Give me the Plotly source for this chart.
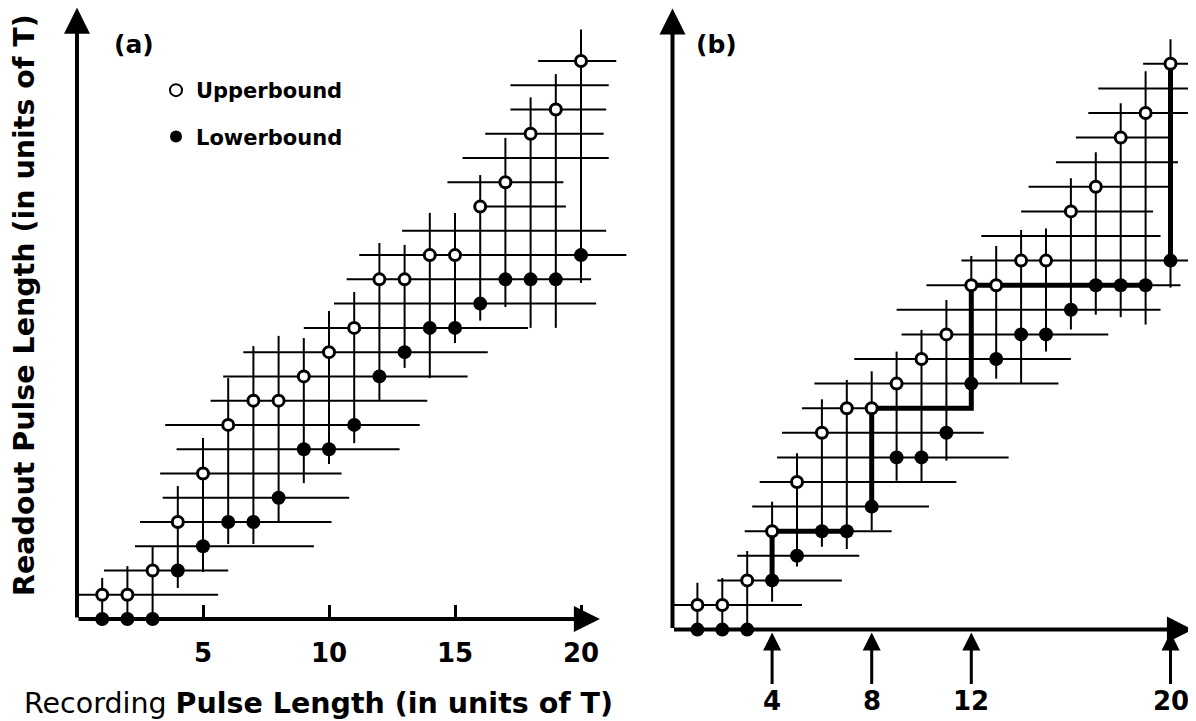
import plotly.graph_objects as go

# ---------------- data ----------------
rec_len = list(range(1, 21))                      # recording pulse length (T)
upper = [1, 1, 2, 4, 6, 8, 9, 9, 10, 11, 12, 14, 14, 15, 15, 17, 18, 20, 21, 23]
lower = [0, 0, 0, 2, 3, 4, 4, 5, 7, 7, 8, 10, 11, 12, 12, 13, 14, 14, 14, 15]

# panel (a) hand-drawn grid: vertical strokes per recording length
a_v_bottom = [0, 0, 0, 1.28, 1.94, 3.09, 3.09, 3.96, 5.6, 6.39, 7.25, 9.03, 10.35,
              9.93, 11.38, 12.3, 12.86, 12.0, 12.0, 13.85]
a_v_top = [1.69, 2.18, 2.97, 5.48, 7.46, 9.93, 11.25, 11.67, 11.58, 12.7, 13.48, 15.5,
           15.42, 16.74, 16.74, 18.3, 19.83, 21.5, 22.46, 24.3]
# horizontal strokes per readout level
levels = list(range(1, 24))
a_h_start = [0, 1.07, 2.3, 2.5, 3.4, 3.3, 3.95, 3.5, 5.3, 5.8, 6.6, 9.0, 10.2, 10.7,
             11.2, 12.9, 15.9, 14.7, 15.3, 16.2, 17.2, 17.2, 18.3]
a_h_end = [5.6, 6.0, 9.4, 10.1, 10.8, 10.5, 12.8, 13.6, 13.9, 15.5, 16.3, 17.9, 20.6,
           20.4, 21.8, 21.0, 19.4, 19.3, 21.1, 20.9, 21.0, 21.1, 21.4]

# panel (b) hand-drawn grid
b_v_bottom = [0, 0, 0, 1.13, 2.56, 3.37, 3.28, 4.05, 6.05, 5.97, 6.87, 9.0, 10.2,
              10.0, 11.3, 12.2, 12.8, 12.7, 12.4, 13.9]
b_v_top = [1.9, 2.1, 3.2, 5.2, 7.17, 9.36, 10.15, 10.5, 11.3, 12.18, 13.4, 15.19,
           15.59, 16.24, 16.3, 18.35, 19.4, 21.4, 22.7, 24.0]
b_h_start = [0, 1.8, 2.6, 2.9, 3.2, 3.5, 4.2, 4.4, 5.2, 5.7, 7.3, 9.2, 9.0, 10.2,
             11.6, 12.4, 14.0, 14.3, 15.4, 16.2, 16.7, 17.1, 18.9]
b_h_end = [5.2, 6.8, 7.5, 8.8, 10.3, 11.4, 13.5, 12.5, 12.0, 15.5, 16.0, 17.5, 19.6,
           20.4, 21.0, 19.6, 19.3, 20.0, 20.3, 20.1, 20.7, 21.0, 21.0]

# panel (b) quantisation staircase
b_steps_x = [[4, 4, 7], [8, 8, 12, 12, 19], [20, 20]]
b_steps_y = [[2, 4, 4], [5, 9, 9, 14, 14], [15, 23]]

a_ticks = [5, 10, 15, 20]
a_tick_text = ["5", "10", "15", "20"]
b_ticks = [4, 8, 12, 20]
b_tick_text = ["4", "8", "12", "20"]

a_axis_x_end, a_axis_y_end = 20.75, 25.2
b_axis_x_end, b_axis_y_end = 20.9, 25.25

FONT = "DejaVu Sans, Liberation Sans, sans-serif"
W, H, PAGE = 1196, 721, 8          # page body margin offset


def fx(s):      # screen x pixel -> paper fraction
    return (s - PAGE) / W


def fy(s):      # screen y pixel (from top) -> paper fraction
    return 1 - (s - PAGE) / H


def vsegs(xs, bot, top):
    X, Y = [], []
    for x, b, t in zip(xs, bot, top):
        X += [x, x, None]
        Y += [b, t, None]
    return X, Y


def hsegs(lv, st, en):
    X, Y = [], []
    for y, s, e in zip(lv, st, en):
        X += [s, e, None]
        Y += [y, y, None]
    return X, Y


fig = go.Figure()

for (xa, ya, vb, vt, hs, he, show) in [
    ("x", "y", a_v_bottom, a_v_top, a_h_start, a_h_end, True),
    ("x2", "y2", b_v_bottom, b_v_top, b_h_start, b_h_end, False),
]:
    X, Y = vsegs(rec_len, vb, vt)
    fig.add_trace(go.Scatter(x=X, y=Y, mode="lines", xaxis=xa, yaxis=ya,
                             line=dict(color="black", width=2), showlegend=False,
                             hoverinfo="skip"))
    X, Y = hsegs(levels, hs, he)
    fig.add_trace(go.Scatter(x=X, y=Y, mode="lines", xaxis=xa, yaxis=ya,
                             line=dict(color="black", width=2), showlegend=False,
                             hoverinfo="skip"))
    if xa == "x2":
        for sx, sy in zip(b_steps_x, b_steps_y):
            fig.add_trace(go.Scatter(x=sx, y=sy, mode="lines", xaxis=xa, yaxis=ya,
                                     line=dict(color="black", width=5),
                                     showlegend=False, hoverinfo="skip"))
    fig.add_trace(go.Scatter(x=rec_len, y=upper, mode="markers", xaxis=xa, yaxis=ya,
                             name="Upperbound", legendgroup="u", showlegend=show,
                             cliponaxis=False,
                             marker=dict(symbol="circle", size=11, color="white",
                                         line=dict(color="black", width=3))))
    fig.add_trace(go.Scatter(x=rec_len, y=lower, mode="markers", xaxis=xa, yaxis=ya,
                             name="Lowerbound", legendgroup="l", showlegend=show,
                             cliponaxis=False,
                             marker=dict(symbol="circle", size=14, color="black",
                                         line=dict(color="black", width=0))))

annotations = []
# axes drawn as arrows
for xr, yr, xe, ye in [("x", "y", a_axis_x_end, a_axis_y_end),
                       ("x2", "y2", b_axis_x_end, b_axis_y_end)]:
    for tx, ty in [(xe, 0), (0, ye)]:
        annotations.append(dict(x=tx, y=ty, ax=0, ay=0, xref=xr, yref=yr,
                                axref=xr, ayref=yr, text="", showarrow=True,
                                arrowhead=2, arrowsize=1.3, arrowwidth=4,
                                arrowcolor="black", standoff=0))
# panel (b) arrow ticks
for v, t in zip(b_ticks, b_tick_text):
    annotations.append(dict(x=v, y=0, xref="x2", yref="y2", text=t, showarrow=True,
                            ax=0, ay=71, arrowhead=2, arrowsize=1.2, arrowwidth=3,
                            arrowcolor="black", standoff=3,
                            font=dict(size=26, family=FONT, color="black",
                                      weight="bold")))
# panel labels and titles
for txt, sx in [("(a)", 134), ("(b)", 716)]:
    annotations.append(dict(x=fx(sx), y=fy(45), xref="paper", yref="paper",
                            xanchor="center", yanchor="middle",
                            text=txt, showarrow=False,
                            font=dict(size=25, family=FONT, color="black",
                                      weight="bold")))
annotations.append(dict(x=fx(318), y=fy(703), xref="paper", yref="paper",
                        xanchor="center", yanchor="middle",
                        text="Recording <b>Pulse Length (in units of T)</b>",
                        showarrow=False,
                        font=dict(size=28.5, family=FONT, color="black")))
annotations.append(dict(x=fx(24), y=fy(305), xref="paper", yref="paper",
                        xanchor="center", yanchor="middle",
                        text="<b>Readout Pulse Length (in units of T)</b>",
                        textangle=-90, showarrow=False,
                        font=dict(size=28.5, family=FONT, color="black")))

fig.update_layout(
    width=W, height=H,
    margin=dict(l=0, r=0, t=0, b=0),
    paper_bgcolor="white", plot_bgcolor="white",
    showlegend=True,
    legend=dict(x=fx(156), y=fy(70), xanchor="left", yanchor="top",
                bgcolor="rgba(0,0,0,0)", tracegroupgap=16, itemsizing="constant",
                font=dict(size=21, family=FONT, color="black", weight="bold")),
    xaxis=dict(domain=[fx(50), fx(640)], range=[(50 - 77) / 25.2, (640 - 77) / 25.2],
               anchor="y", tickvals=a_ticks, ticktext=a_tick_text,
               ticks="inside", ticklen=14, tickwidth=3, tickcolor="black",
               showline=False, showgrid=False, zeroline=False,
               ticklabelstandoff=16,
               tickfont=dict(size=26, family=FONT, color="black", weight="bold")),
    yaxis=dict(domain=[fy(619), 1], range=[0, (619 - PAGE) / 24.26], anchor="x",
               visible=False),
    xaxis2=dict(domain=[fx(650), 1],
                range=[(650 - 672.5) / 24.9, (W + PAGE - 672.5) / 24.9],
                anchor="y2", visible=False),
    yaxis2=dict(domain=[fy(629.6), 1], range=[0, (629.6 - PAGE) / 24.6], anchor="x2",
                visible=False),
    annotations=annotations,
)

fig.write_html("out.html")
